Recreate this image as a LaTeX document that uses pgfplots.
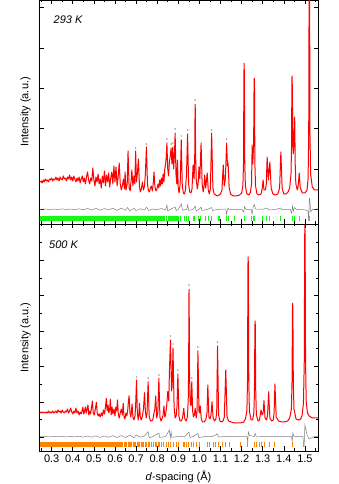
\documentclass[border=0pt]{standalone}
\usepackage{fontspec}
\setmainfont{Liberation Sans}
\usepackage{pgfplots}
\pgfplotsset{compat=1.18}
\definecolor{tickgreen}{RGB}{20,250,20}
\definecolor{tickorange}{RGB}{255,130,0}

\pgfplotsset{
  xrd/.style={
    scale only axis, width=279pt, anchor=south west,
    xmin=0.24, xmax=1.562,
    xtick={0.3,0.4,0.5,0.6,0.7,0.8,0.9,1.0,1.1,1.2,1.3,1.4,1.5},
    minor xtick={0.25,0.35,0.45,0.55,0.65,0.75,0.85,0.95,1.05,1.15,1.25,1.35,1.45,1.55},
    yticklabels={},
    tick align=inside, major tick length=4.5pt, minor tick length=2.5pt,
    every tick/.style={black, line width=0.6pt},
    axis line style={line width=0.8pt},
    ylabel={Intensity (a.u.)},
    ylabel style={at={(axis description cs:-0.048,0.5)}, anchor=center,
      font=\fontsize{11}{13}\selectfont},
    xticklabel style={font=\fontsize{11}{13}\selectfont},
    /pgf/number format/assume math mode=true,
  },
  calc/.style={red, line width=1pt, line join=round},
  diff/.style={gray, line width=0.5pt},
  obs/.style={only marks, mark=*, mark size=0.45pt, gray},
}

\begin{document}
\begin{tikzpicture}
\path[use as bounding box] (0,0) rectangle (339pt,484pt);

% ---------------- 293 K ----------------
\begin{axis}[xrd, at={(39pt,260pt)}, height=224pt, ymin=0, ymax=224,
  xticklabels={}, ytick={14.7,55,95.3,135.6,175.9,216.2}]
\addplot[fill=tickgreen, draw=none] coordinates {(0.245,3.3) (0.631,3.3) (0.631,8) (0.245,8)};
\addplot[only marks, mark=|, mark size=2.35pt, tickgreen, mark options={line width=0.9pt}, forget plot]
  coordinates {(0.637,5.65) (0.641,5.65) (0.645,5.65) (0.649,5.65) (0.653,5.65) (0.657,5.65) (0.661,5.65)
  (0.665,5.65) (0.669,5.65) (0.673,5.65) (0.677,5.65) (0.681,5.65) (0.685,5.65) (0.689,5.65) (0.693,5.65)
  (0.697,5.65) (0.701,5.65) (0.705,5.65) (0.709,5.65) (0.713,5.65) (0.717,5.65) (0.721,5.65) (0.725,5.65)
  (0.729,5.65) (0.733,5.65) (0.737,5.65) (0.741,5.65) (0.745,5.65) (0.749,5.65) (0.754,5.65) (0.759,5.65)
  (0.763,5.65) (0.768,5.65) (0.772,5.65) (0.777,5.65) (0.781,5.65) (0.786,5.65) (0.791,5.65) (0.795,5.65)
  (0.800,5.65) (0.805,5.65) (0.810,5.65) (0.815,5.65) (0.820,5.65) (0.826,5.65) (0.831,5.65) (0.836,5.65)
  (0.842,5.65) (0.846,5.65) (0.852,5.65) (0.858,5.65) (0.862,5.65) (0.866,5.65) (0.871,5.65) (0.876,5.65)
  (0.881,5.65) (0.886,5.65) (0.891,5.65) (0.897,5.65) (0.902,5.65) (0.912,5.65) (0.928,5.65) (0.939,5.65)
  (0.947,5.65) (0.970,5.65) (0.978,5.65) (0.997,5.65) (1.007,5.65) (1.031,5.65) (1.042,5.65) (1.059,5.65)
  (1.089,5.65) (1.097,5.65) (1.129,5.65) (1.136,5.65) (1.168,5.65) (1.212,5.65) (1.247,5.65) (1.255,5.65)
  (1.263,5.65) (1.300,5.65) (1.318,5.65) (1.334,5.65) (1.385,5.65) (1.439,5.65) (1.451,5.65) (1.473,5.65)
  (1.521,5.65)};
\addplot[diff] coordinates {
  (0.245,14.7) (0.27,15.0) (0.29,14.4) (0.31,14.9) (0.33,14.5) (0.35,15.1) (0.37,14.4) (0.39,15.0)
  (0.41,14.3) (0.43,15.2) (0.45,14.2) (0.47,15.5) (0.49,14.0) (0.51,15.6) (0.53,13.8) (0.55,15.4)
  (0.57,14.1) (0.59,15.8) (0.61,13.6) (0.63,15.9) (0.65,13.8) (0.66,16.5) (0.67,13.2) (0.69,15.6)
  (0.70,13.5) (0.72,15.2) (0.74,14.0) (0.75,16.8) (0.76,13.5) (0.78,15.0) (0.80,14.3) (0.82,15.5)
  (0.84,14.0) (0.846,19) (0.85,13) (0.87,15.5) (0.885,17) (0.89,13.5) (0.90,14.5) (0.914,20)
  (0.92,13.8) (0.94,14.6) (0.944,19) (0.95,13.5) (0.97,14.7) (0.98,18) (0.985,13) (1.0,15)
  (1.008,17) (1.012,13.5) (1.04,14.7) (1.058,16.5) (1.062,13.5) (1.09,14.7) (1.125,14.8) (1.129,9.5)
  (1.133,14.5) (1.136,16.0) (1.14,14.5) (1.17,14.7) (1.20,14.7) (1.21,12) (1.214,17.5) (1.22,14.5)
  (1.245,14.5) (1.25,10) (1.255,17) (1.26,19.5) (1.266,15) (1.30,14.7) (1.32,16) (1.33,14)
  (1.36,14.5) (1.386,16) (1.39,14.2) (1.43,14.5) (1.437,11) (1.441,18) (1.445,13) (1.451,16.5)
  (1.46,14.5) (1.50,14.2) (1.515,13) (1.518,3) (1.521,26) (1.524,22) (1.528,12) (1.535,14.5) (1.562,15)};
\addplot[calc] coordinates {
  (0.245,42) (0.25,43) (0.255,41) (0.26,44) (0.265,42) (0.27,45) (0.275,43) (0.28,44) (0.285,42)
  (0.29,45) (0.295,44) (0.30,46) (0.305,43) (0.31,45) (0.315,44) (0.32,47) (0.325,44) (0.33,46)
  (0.335,43) (0.34,47) (0.345,45) (0.35,44) (0.355,48) (0.36,45) (0.365,46) (0.37,43) (0.375,47)
  (0.38,45) (0.385,49) (0.39,44) (0.395,47) (0.40,43) (0.405,48) (0.41,45) (0.415,42) (0.42,46)
  (0.425,43) (0.43,47) (0.435,41) (0.44,45) (0.445,48) (0.45,42) (0.455,46) (0.46,40) (0.465,47)
  (0.47,52) (0.475,44) (0.48,40) (0.485,46) (0.49,43) (0.495,56) (0.50,44) (0.505,38) (0.51,47)
  (0.515,42) (0.52,50) (0.525,40) (0.53,45) (0.535,36) (0.54,48) (0.545,41) (0.55,53) (0.555,38)
  (0.56,49) (0.565,42) (0.57,51) (0.575,37) (0.58,46) (0.585,52) (0.59,40) (0.595,58) (0.60,42)
  (0.605,57) (0.61,38) (0.615,47) (0.62,61) (0.625,40) (0.63,34) (0.635,38) (0.64,45) (0.645,35)
  (0.648,52) (0.652,34) (0.658,40) (0.662,73) (0.667,36) (0.672,33) (0.677,45) (0.68,54) (0.685,38)
  (0.69,48) (0.694,40) (0.698,73) (0.702,42) (0.706,50) (0.711,65) (0.716,38) (0.72,32) (0.725,35)
  (0.73,42) (0.735,34) (0.74,38) (0.744,50) (0.749,77) (0.754,40) (0.758,34) (0.763,32) (0.768,36)
  (0.772,38) (0.777,33) (0.781,40) (0.785,52) (0.789,38) (0.794,33) (0.799,35) (0.804,40) (0.808,36)
  (0.812,44) (0.816,38) (0.82,46) (0.824,40) (0.828,50) (0.832,42) (0.836,55) (0.84,60) (0.843,67)
  (0.846,81) (0.85,55) (0.854,48) (0.858,62) (0.862,68) (0.866,76) (0.87,60) (0.874,77) (0.878,55)
  (0.882,70) (0.885,91) (0.889,50) (0.893,40) (0.896,64) (0.90,35) (0.904,31) (0.909,40) (0.914,84)
  (0.919,38) (0.924,31) (0.929,30) (0.934,34) (0.939,50) (0.944,90) (0.949,40) (0.954,32) (0.96,31)
  (0.965,35) (0.97,59) (0.975,45) (0.978,70) (0.9795,115) (0.98,119.7) (0.9805,115) (0.982,70)
  (0.985,45) (0.99,35) (0.994,40) (0.998,57) (1.002,45) (1.008,81) (1.013,40) (1.018,32) (1.022,38)
  (1.025,49) (1.03,36) (1.037,51) (1.042,34) (1.047,30) (1.052,35) (1.058,91) (1.064,36) (1.07,30)
  (1.078,29) (1.085,28) (1.093,29) (1.10,30) (1.107,34) (1.113,59) (1.118,38) (1.123,45) (1.129,81)
  (1.133,58) (1.136,61) (1.141,36) (1.148,30) (1.16,28) (1.175,28) (1.19,29) (1.20,31) (1.206,38)
  (1.209,60) (1.211,150) (1.212,160.7) (1.213,150) (1.215,60) (1.218,38) (1.225,30) (1.235,29)
  (1.242,32) (1.247,40) (1.250,79) (1.253,60) (1.257,80) (1.259,140) (1.26,145.7) (1.261,140)
  (1.263,60) (1.266,38) (1.273,30) (1.283,29) (1.292,30) (1.298,36) (1.302,44) (1.306,34) (1.313,34)
  (1.317,40) (1.321,67) (1.327,44) (1.334,62) (1.34,36) (1.348,30) (1.36,29) (1.372,30) (1.38,36)
  (1.386,72) (1.392,36) (1.40,30) (1.41,30) (1.42,32) (1.428,36) (1.434,50) (1.437,80) (1.438,140)
  (1.439,148) (1.440,140) (1.443,80) (1.445,70) (1.448,80) (1.450,102) (1.451,107) (1.452,102)
  (1.454,60) (1.457,40) (1.464,34) (1.468,38) (1.473,51) (1.478,36) (1.488,31) (1.50,31) (1.51,34)
  (1.515,45) (1.518,90) (1.520,250) (1.521,270) (1.522,250) (1.524,90) (1.527,50) (1.535,37)
  (1.545,34) (1.562,34)};
\addplot[obs] coordinates {(0.98,124) (0.846,85) (0.885,95) (0.914,88) (0.944,94) (0.749,80)
  (0.698,76) (1.129,85) (1.058,94) (0.866,80) (0.874,81)};
\node[font=\fontsize{11}{13}\selectfont\itshape] at (axis description cs:0.104,0.911) {293 K};
\end{axis}

% ---------------- 500 K ----------------
\begin{axis}[xrd, at={(39pt,33pt)}, height=227pt, ymin=0, ymax=227,
  xticklabels={0.3,0.4,0.5,0.6,0.7,0.8,0.9,1.0,1.1,1.2,1.3,1.4,1.5},
  ytick={13.7,49.1,84.5,119.9,155.3,190.7},
  minor ytick={31.4,66.8,102.2,137.6,173,208.4},
  xlabel={\textit{d}-spacing (Å)},
  xlabel style={at={(axis description cs:0.5,0)}, anchor=center, yshift=-26pt,
    font=\fontsize{11}{13}\selectfont}]
\addplot[fill=tickorange, draw=none] coordinates {(0.245,3.7) (0.638,3.7) (0.638,9.3) (0.245,9.3)};
\addplot[only marks, mark=|, mark size=2.8pt, tickorange, mark options={line width=0.9pt}, forget plot]
  coordinates {(0.645,6.5) (0.651,6.5) (0.656,6.5) (0.662,6.5) (0.668,6.5) (0.675,6.5) (0.680,6.5)
  (0.686,6.5) (0.694,6.5) (0.699,6.5) (0.705,6.5) (0.711,6.5) (0.717,6.5) (0.724,6.5) (0.730,6.5)
  (0.736,6.5) (0.743,6.5) (0.749,6.5) (0.757,6.5) (0.765,6.5) (0.773,6.5) (0.784,6.5) (0.790,6.5)
  (0.797,6.5) (0.804,6.5) (0.812,6.5) (0.820,6.5) (0.828,6.5) (0.844,6.5) (0.852,6.5) (0.863,6.5)
  (0.875,6.5) (0.892,6.5) (0.899,6.5) (0.923,6.5) (0.931,6.5) (0.939,6.5) (0.947,6.5) (0.963,6.5)
  (0.970,6.5) (0.986,6.5) (1.002,6.5) (1.037,6.5) (1.046,6.5) (1.065,6.5) (1.078,6.5) (1.089,6.5)
  (1.110,6.5) (1.125,6.5) (1.141,6.5) (1.195,6.5) (1.226,6.5) (1.263,6.5) (1.271,6.5) (1.283,6.5)
  (1.295,6.5) (1.306,6.5) (1.331,6.5) (1.358,6.5) (1.440,6.5) (1.495,6.5)};
\addplot[diff] coordinates {
  (0.245,14.3) (0.27,14.6) (0.29,14.1) (0.31,14.5) (0.33,14.2) (0.35,14.7) (0.37,14.0) (0.39,14.6)
  (0.41,14.1) (0.43,14.8) (0.45,13.9) (0.47,15.0) (0.49,13.8) (0.51,15.2) (0.53,13.6) (0.55,15.0)
  (0.57,13.7) (0.59,15.3) (0.61,13.5) (0.63,15.4) (0.65,13.6) (0.67,15.8) (0.69,13.4) (0.70,16)
  (0.72,13.8) (0.74,15.0) (0.757,19.3) (0.762,13.2) (0.78,14.5) (0.808,18) (0.812,13.5) (0.84,14.5)
  (0.858,21) (0.862,13) (0.866,19) (0.87,13.5) (0.90,14.8) (0.93,14.2) (0.951,19) (0.955,13.5)
  (0.97,14.5) (0.993,17.5) (0.997,13.5) (1.03,14.5) (1.06,14.3) (1.086,17) (1.09,14) (1.12,14.5)
  (1.2,14.3) (1.225,14.5) (1.229,9) (1.232,19) (1.238,15.5) (1.26,14.5) (1.264,17.5) (1.27,14)
  (1.30,14.5) (1.36,14.5) (1.436,14.5) (1.44,10) (1.443,18) (1.448,14.5) (1.49,14.5) (1.496,4)
  (1.50,26) (1.504,22) (1.51,16) (1.52,12) (1.53,13) (1.545,14.5) (1.562,14.3)};
\addplot[calc] coordinates {
  (0.245,38) (0.25,39) (0.255,38) (0.26,39) (0.27,38) (0.275,39) (0.28,38) (0.285,40) (0.29,38)
  (0.295,39) (0.30,38) (0.305,40) (0.31,38) (0.315,39) (0.32,40) (0.325,38) (0.33,41) (0.335,39)
  (0.34,40) (0.345,38) (0.35,41) (0.355,39) (0.36,38) (0.365,40) (0.37,39) (0.375,42) (0.38,38)
  (0.385,40) (0.39,43) (0.395,39) (0.40,37) (0.405,40) (0.41,38) (0.415,43) (0.42,38) (0.425,40)
  (0.43,36) (0.435,39) (0.44,37) (0.445,41) (0.448,44) (0.452,37) (0.456,40) (0.46,44) (0.464,38)
  (0.468,42) (0.472,46) (0.476,36) (0.48,40) (0.484,37) (0.488,42) (0.493,50) (0.497,38) (0.502,36)
  (0.507,42) (0.512,48.7) (0.516,38) (0.52,35) (0.525,37) (0.53,34) (0.535,38) (0.54,35) (0.545,41)
  (0.55,37) (0.555,44) (0.559,52.7) (0.563,40) (0.567,46) (0.571,38) (0.575,42) (0.578,51.7)
  (0.582,36) (0.586,44) (0.59,37) (0.595,42) (0.60,35) (0.604,44) (0.608,40) (0.612,51) (0.616,36)
  (0.62,33) (0.625,38) (0.63,42) (0.635,36) (0.639,47.7) (0.643,34) (0.647,32) (0.652,38) (0.656,35)
  (0.66,40) (0.664,50) (0.667,55.3) (0.671,38) (0.675,34) (0.678,40) (0.681,47) (0.685,34) (0.69,31)
  (0.695,35) (0.698,46) (0.702,71) (0.706,38) (0.71,31) (0.713,36) (0.716,47.7) (0.72,34) (0.725,31)
  (0.73,35) (0.735,42) (0.74,58.3) (0.744,40) (0.748,33) (0.752,38) (0.757,69.3) (0.762,35) (0.768,30)
  (0.775,30) (0.78,32) (0.785,38) (0.789,42) (0.793,55) (0.798,33) (0.803,38) (0.808,72.7) (0.813,34)
  (0.818,30) (0.823,32) (0.828,36) (0.832,45) (0.836,34) (0.84,36) (0.845,45) (0.85,59.3) (0.855,50)
  (0.858,80) (0.863,111) (0.868,60) (0.871,65) (0.875,102.7) (0.88,45) (0.885,33) (0.89,35) (0.894,45)
  (0.898,77) (0.903,35) (0.908,30) (0.914,30) (0.92,33) (0.926,42.7) (0.931,32) (0.937,30) (0.943,34)
  (0.947,50) (0.949,80) (0.9505,155) (0.951,161.7) (0.9515,155) (0.953,80) (0.956,50) (0.96,45)
  (0.964,69.3) (0.968,40) (0.972,34) (0.976,36) (0.98,42.7) (0.985,33) (0.989,40) (0.993,100.3)
  (0.998,40) (1.001,38) (1.004,45) (1.009,32) (1.015,29) (1.022,29) (1.03,31) (1.036,38) (1.040,66)
  (1.045,34) (1.05,32) (1.055,36) (1.060,49.3) (1.065,33) (1.072,30) (1.078,32) (1.082,38) (1.086,105)
  (1.091,36) (1.097,30) (1.105,29) (1.112,30) (1.118,34) (1.125,81) (1.131,34) (1.138,30) (1.15,29)
  (1.165,28) (1.18,28) (1.195,28) (1.21,29) (1.218,32) (1.225,40) (1.228,70) (1.230,185) (1.231,194.3)
  (1.232,185) (1.234,70) (1.237,40) (1.245,31) (1.252,31) (1.258,38) (1.261,60) (1.263,125) (1.264,130)
  (1.265,125) (1.267,60) (1.27,36) (1.278,30) (1.285,31) (1.288,36) (1.292,41) (1.297,36) (1.302,38)
  (1.306,50.3) (1.311,33) (1.318,31) (1.323,36) (1.328,59.3) (1.334,33) (1.342,30) (1.35,31) (1.354,38)
  (1.358,67) (1.364,34) (1.375,30) (1.39,29) (1.405,29) (1.418,30) (1.428,33) (1.436,42) (1.439,70)
  (1.441,140) (1.442,147.7) (1.443,140) (1.445,70) (1.448,42) (1.458,32) (1.47,31) (1.48,32) (1.487,36)
  (1.493,48) (1.497,90) (1.499,215) (1.50,226) (1.501,215) (1.503,90) (1.506,50) (1.512,38) (1.52,35)
  (1.535,33) (1.55,33) (1.562,33)};
\addplot[obs] coordinates {(0.951,166) (0.863,115) (0.875,107) (0.993,104) (1.086,109) (0.898,81)
  (0.757,73) (0.808,76) (0.702,74) (0.964,73)};
\node[font=\fontsize{11}{13}\selectfont\itshape] at (axis description cs:0.088,0.907) {500 K};
\end{axis}
\end{tikzpicture}
\end{document}
